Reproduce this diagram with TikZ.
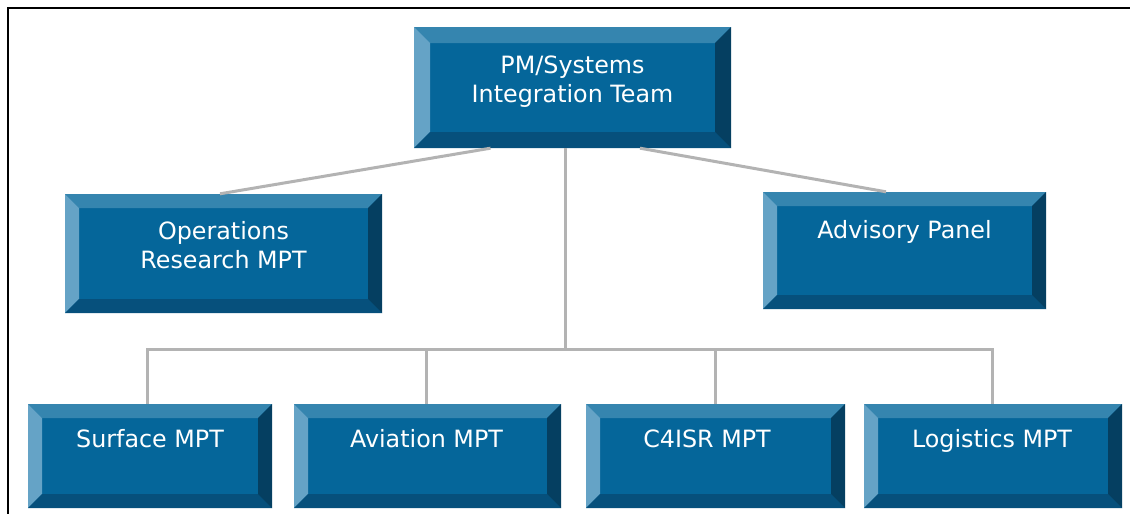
\documentclass[tikz,border=0pt]{standalone}
\usepackage{fontspec}
\setmainfont{DejaVu Sans}
\definecolor{faceC}{HTML}{05669A}
\definecolor{topC}{HTML}{3585AF}
\definecolor{leftC}{HTML}{65A3C6}
\definecolor{botC}{HTML}{06507C}
\definecolor{rightC}{HTML}{053F61}
\definecolor{lineC}{HTML}{B3B3B3}
\begin{document}
\begin{tikzpicture}[x=1pt,y=-1pt,
  bev/.style={rectangle, draw=none, fill=faceC, inner sep=0pt,
    path picture={
      \path (path picture bounding box.north west) coordinate (pnw)
            (path picture bounding box.north east) coordinate (pne)
            (path picture bounding box.south west) coordinate (psw)
            (path picture bounding box.south east) coordinate (pse);
      \fill[topC] (pnw) -- (pne) -- ([shift={(-#1,-#1)}]pne) -- ([shift={(#1,-#1)}]pnw) -- cycle;
      \fill[leftC] (pnw) -- (psw) -- ([shift={(#1,#1)}]psw) -- ([shift={(#1,-#1)}]pnw) -- cycle;
      \fill[botC] (psw) -- (pse) -- ([shift={(-#1,#1)}]pse) -- ([shift={(#1,#1)}]psw) -- cycle;
      \fill[rightC] (pne) -- (pse) -- ([shift={(-#1,#1)}]pse) -- ([shift={(-#1,-#1)}]pne) -- cycle;
    }},
  bev/.default=14pt,
  lbl/.style={text=white, font=\fontsize{23.8}{28.5}\selectfont, align=center, anchor=base, inner sep=0pt},
  conn/.style={draw=lineC, line width=3pt}]
\useasboundingbox (0,0) rectangle (1130,514);
\draw[line width=2.5pt] (8,514) -- (8,8) -- (1131,8);

\coordinate (bus) at (565,349);

\node[bev=16pt, minimum width=317, minimum height=121] (pm) at (572.5,87.5) {};
\node[bev, minimum width=317, minimum height=119] (ops) at (223.5,253.5) {};
\node[bev, minimum width=283, minimum height=117] (adv) at (904.5,250.5) {};
\node[bev, minimum width=244, minimum height=104] (sur) at (150,456) {};
\node[bev, minimum width=267, minimum height=104] (avi) at (427.5,456) {};
\node[bev, minimum width=259, minimum height=104] (c4) at (715.5,456) {};
\node[bev, minimum width=258, minimum height=104] (log) at (993,456) {};

\draw[conn] ([xshift=-82pt]pm.south) -- ([xshift=-3.5pt]ops.north);
\draw[conn] ([xshift=67.5pt]pm.south) -- ([xshift=-18.5pt]adv.north);
\draw[conn] (pm.south -| bus) -- (bus);
\draw[conn, line join=miter] (sur.north -| 147,0) -- (bus -| 147,0) -- (bus -| 992,0) -- (log.north -| 992,0);
\draw[conn] (avi.north -| 426,0) -- (bus -| 426,0);
\draw[conn] (c4.north -| 715,0) -- (bus -| 715,0);

\node[lbl] (pmt) at (572.5,102) {PM/Systems\\Integration Team};
\node[lbl] (opst) at (223.5,268) {Operations\\Research MPT};
\node[lbl] (advt) at (904.5,238) {Advisory Panel};
\node[lbl] (surt) at (150,447) {Surface MPT};
\node[lbl] (avit) at (426.5,447) {Aviation MPT};
\node[lbl] (c4t) at (707,447) {C4ISR MPT};
\node[lbl] (logt) at (992,447) {Logistics MPT};
\end{tikzpicture}
\end{document}
